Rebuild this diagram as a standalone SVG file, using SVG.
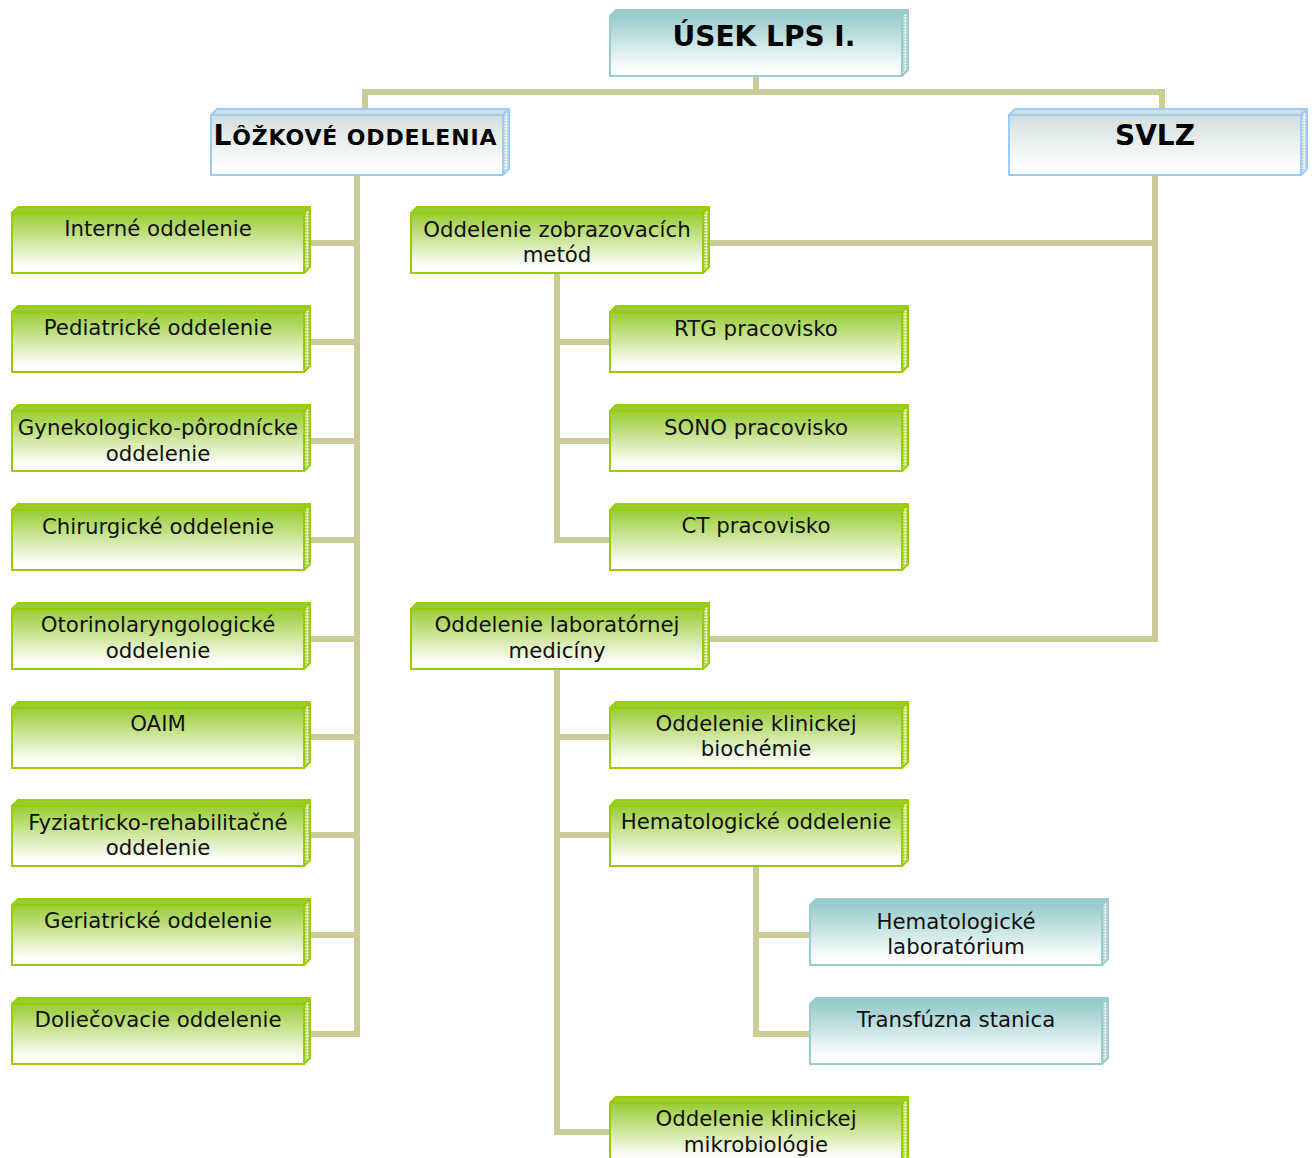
<svg xmlns="http://www.w3.org/2000/svg" xmlns:xlink="http://www.w3.org/1999/xlink" width="1316" height="1158" viewBox="0 0 1316 1158">
<style>
.t{font-family:"DejaVu Sans","Verdana",sans-serif;font-size:21.3px;fill:#111;text-anchor:middle}
.h{font-family:"DejaVu Sans","Verdana",sans-serif;font-weight:bold;font-size:28px;fill:#000;text-anchor:middle}
.c{fill:none;stroke:#cccc99;stroke-width:6;stroke-linejoin:miter;stroke-linecap:butt}
</style>
<defs>
<linearGradient id="gG" x1="0" y1="0" x2="0" y2="1"><stop offset="0" stop-color="#99cc33"/><stop offset="0.9" stop-color="#ffffff"/></linearGradient>
<linearGradient id="gT" x1="0" y1="0" x2="0" y2="1"><stop offset="0" stop-color="#99cccc"/><stop offset="0.9" stop-color="#ffffff"/></linearGradient>
<linearGradient id="gB" x1="0" y1="0" x2="0" y2="1"><stop offset="0" stop-color="#d3dede"/><stop offset="0.9" stop-color="#ffffff"/></linearGradient>
<pattern id="pG" width="3" height="3" patternUnits="userSpaceOnUse"><rect width="3" height="3" fill="#d6e8a8"/><rect width="1.5" height="1.5" fill="#99cc33"/><rect x="1.5" y="1.5" width="1.5" height="1.5" fill="#eef6da"/></pattern>
<pattern id="pT" width="3" height="3" patternUnits="userSpaceOnUse"><rect width="3" height="3" fill="#cfe4e4"/><rect width="1.5" height="1.5" fill="#99cccc"/><rect x="1.5" y="1.5" width="1.5" height="1.5" fill="#eef6f6"/></pattern>
<pattern id="pB" width="3" height="3" patternUnits="userSpaceOnUse"><rect width="3" height="3" fill="#dfe6e6"/><rect width="1.5" height="1.5" fill="#c0cccc"/><rect x="1.5" y="1.5" width="1.5" height="1.5" fill="#f4f7f7"/></pattern>
<symbol id="boxG" overflow="visible">
<polygon points="1,6 7,0 299,0 293,6" fill="#99cc33" stroke="#99cc00" stroke-width="2" stroke-linejoin="round"/>
<polygon points="293,6 299,0 299,60 293,66" fill="url(#pG)" stroke="#99cc00" stroke-width="2" stroke-linejoin="round"/>
<rect x="1" y="6" width="292" height="60" fill="url(#gG)" stroke="#99cc00" stroke-width="2"/>
</symbol>
<symbol id="boxT" overflow="visible">
<polygon points="1,6 7,0 299,0 293,6" fill="#99cccc" stroke="#99cccc" stroke-width="2" stroke-linejoin="round"/>
<polygon points="293,6 299,0 299,60 293,66" fill="url(#pT)" stroke="#99cccc" stroke-width="2" stroke-linejoin="round"/>
<rect x="1" y="6" width="292" height="60" fill="url(#gT)" stroke="#99cccc" stroke-width="2"/>
</symbol>
<symbol id="boxB" overflow="visible">
<polygon points="1,6 7,0 299,0 293,6" fill="#d3dede" stroke="#99ccff" stroke-width="2" stroke-linejoin="round"/>
<polygon points="293,6 299,0 299,60 293,66" fill="url(#pB)" stroke="#99ccff" stroke-width="2" stroke-linejoin="round"/>
<rect x="1" y="6" width="292" height="60" fill="url(#gB)" stroke="#99ccff" stroke-width="2"/>
</symbol>
</defs>
<rect width="1316" height="1158" fill="#ffffff"/>
<g id="connectors">
<path class="c" d="M756,76 V92"/>
<path class="c" d="M365,108 V92 H1162 V108"/>
<path class="c" d="M357,175 V1034 H305"/>
<path class="c" d="M305,243 H357 M305,342 H357 M305,441 H357 M305,540 H357 M305,639 H357 M305,737 H357 M305,835 H357 M305,935 H357"/>
<path class="c" d="M1155,175 V639 H704"/>
<path class="c" d="M704,243 H1155"/>
<path class="c" d="M557,273 V540 H610 M557,342 H610 M557,441 H610"/>
<path class="c" d="M557,669 V1132 H610 M557,737 H610 M557,835 H610"/>
<path class="c" d="M756,866 V1034 H810 M756,935 H810"/>
</g>
<g id="usek"><use xlink:href="#boxT" x="609" y="10"/><text class="h" x="764" y="46">ÚSEK LPS I.</text></g>
<g id="lozkove"><use xlink:href="#boxB" x="210" y="109"/><text class="h" x="355" y="145" textLength="283" lengthAdjust="spacing">L<tspan font-size="22">ÔŽKOVÉ ODDELENIA</tspan></text></g>
<g id="svlz"><use xlink:href="#boxB" x="1008" y="109"/><text class="h" x="1155" y="145">SVLZ</text></g>
<g id="interne"><use xlink:href="#boxG" x="11" y="207"/><text class="t" x="158" y="236">Interné oddelenie</text></g>
<g id="pediatricke"><use xlink:href="#boxG" x="11" y="306"/><text class="t" x="158" y="335">Pediatrické oddelenie</text></g>
<g id="gynekologicko"><use xlink:href="#boxG" x="11" y="405"/><text class="t" x="158" y="435">Gynekologicko-pôrodnícke</text><text class="t" x="158" y="461">oddelenie</text></g>
<g id="chirurgicke"><use xlink:href="#boxG" x="11" y="504"/><text class="t" x="158" y="534">Chirurgické oddelenie</text></g>
<g id="otorino"><use xlink:href="#boxG" x="11" y="603"/><text class="t" x="158" y="632">Otorinolaryngologické</text><text class="t" x="158" y="658">oddelenie</text></g>
<g id="oaim"><use xlink:href="#boxG" x="11" y="702"/><text class="t" x="158" y="731">OAIM</text></g>
<g id="fyziatricko"><use xlink:href="#boxG" x="11" y="800"/><text class="t" x="158" y="830">Fyziatricko-rehabilitačné</text><text class="t" x="158" y="855">oddelenie</text></g>
<g id="geriatricke"><use xlink:href="#boxG" x="11" y="899"/><text class="t" x="158" y="928">Geriatrické oddelenie</text></g>
<g id="doliecovacie"><use xlink:href="#boxG" x="11" y="998"/><text class="t" x="158" y="1027">Doliečovacie oddelenie</text></g>
<g id="zobrazovacich"><use xlink:href="#boxG" x="410" y="207"/><text class="t" x="557" y="237">Oddelenie zobrazovacích</text><text class="t" x="557" y="262">metód</text></g>
<g id="rtg"><use xlink:href="#boxG" x="609" y="306"/><text class="t" x="756" y="336">RTG pracovisko</text></g>
<g id="sono"><use xlink:href="#boxG" x="609" y="405"/><text class="t" x="756" y="435">SONO pracovisko</text></g>
<g id="ct"><use xlink:href="#boxG" x="609" y="504"/><text class="t" x="756" y="533">CT pracovisko</text></g>
<g id="laboratornej"><use xlink:href="#boxG" x="410" y="603"/><text class="t" x="557" y="632">Oddelenie laboratórnej</text><text class="t" x="557" y="658">medicíny</text></g>
<g id="biochemie"><use xlink:href="#boxG" x="609" y="702"/><text class="t" x="756" y="731">Oddelenie klinickej</text><text class="t" x="756" y="756">biochémie</text></g>
<g id="hematologicke"><use xlink:href="#boxG" x="609" y="800"/><text class="t" x="756" y="829">Hematologické oddelenie</text></g>
<g id="hemlab"><use xlink:href="#boxT" x="809" y="899"/><text class="t" x="956" y="929">Hematologické</text><text class="t" x="956" y="954">laboratórium</text></g>
<g id="transfuzna"><use xlink:href="#boxT" x="809" y="998"/><text class="t" x="956" y="1027">Transfúzna stanica</text></g>
<g id="mikrobiologie"><use xlink:href="#boxG" x="609" y="1097"/><text class="t" x="756" y="1126">Oddelenie klinickej</text><text class="t" x="756" y="1152">mikrobiológie</text></g>
</svg>
